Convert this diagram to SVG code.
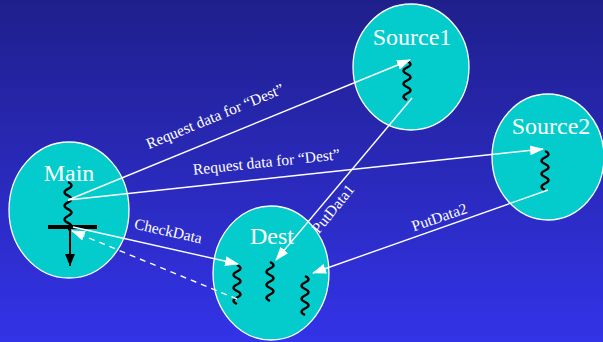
<svg xmlns="http://www.w3.org/2000/svg" xmlns:xlink="http://www.w3.org/1999/xlink" width="603" height="342" viewBox="0 0 603 342">
<defs>
<linearGradient id="bg" x1="0" y1="0" x2="0" y2="1">
<stop offset="0" stop-color="#1f1f8c"/>
<stop offset="1" stop-color="#3333e8"/>
</linearGradient>
<marker id="ah" markerUnits="userSpaceOnUse" markerWidth="14" markerHeight="12" refX="13" refY="5" orient="auto" viewBox="0 0 14 10">
<path d="M0,0 L14,5 L0,10 Z" fill="#ffffff"/>
</marker>
<marker id="ahb" markerUnits="userSpaceOnUse" markerWidth="12" markerHeight="12" refX="12" refY="5" orient="auto" viewBox="0 0 12 10">
<path d="M0,0 L12,5 L0,10 Z" fill="#000000"/>
</marker>
<path id="sq" d="M0,0 q 7,3.25 0,6.5 t 0,6.5 t 0,6.5 t 0,6.5 t 0,6.5 t 0,6.5"/>
<path id="sqm" d="M0,0 q 7,3.4 0,6.8 t 0,6.8 t 0,6.8 t 0,6.8 t 0,6.8 t 0,6.8 t 0,6.8"/>
</defs>
<style>
.node{fill:#04cccc;stroke:#ffffff;stroke-width:1.3}
.lbl{font-family:"Liberation Serif","DejaVu Serif","Times New Roman",serif;font-size:24px;fill:#ffffff;text-anchor:middle}
.elbl{font-family:"Liberation Serif","DejaVu Serif","Times New Roman",serif;font-size:15.5px;fill:#ffffff;text-anchor:middle}
.sq{fill:none;stroke:#000000;stroke-width:2.4}
.edge{stroke:#ffffff;stroke-width:1.4;fill:none;marker-end:url(#ah)}
</style>
<rect x="0" y="0" width="603" height="342" fill="url(#bg)"/>
<g id="node-main">
<ellipse class="node" cx="69" cy="210" rx="60" ry="68"/>
<text class="lbl" x="69" y="181">Main</text>
<use href="#sqm" class="sq" x="68" y="182"/>
<line x1="48" y1="227" x2="97" y2="227" stroke="#000" stroke-width="4"/>
<line x1="70" y1="228" x2="70" y2="266" stroke="#000" stroke-width="2" marker-end="url(#ahb)"/>
</g>
<g id="node-dest">
<ellipse class="node" cx="271" cy="273" rx="58" ry="67"/>
<text class="lbl" x="272" y="244">Dest</text>
<use href="#sq" class="sq" x="237" y="265"/>
<use href="#sq" class="sq" x="270" y="262"/>
<use href="#sq" class="sq" x="305" y="276"/>
</g>
<g id="node-source1">
<ellipse class="node" cx="411" cy="67" rx="58" ry="63"/>
<text class="lbl" x="412" y="45">Source1</text>
<use href="#sq" class="sq" x="407" y="61"/>
</g>
<g id="node-source2">
<ellipse class="node" cx="548" cy="157" rx="56" ry="63"/>
<text class="lbl" x="551" y="134">Source2</text>
<use href="#sq" class="sq" x="545" y="151"/>
</g>
<g id="connectors">
<line class="edge" x1="68" y1="200" x2="410" y2="60"/>
<line class="edge" x1="68" y1="200" x2="543" y2="149"/>
<line class="edge" x1="73" y1="227" x2="238" y2="264"/>
<line class="edge" x1="237" y1="299" x2="72" y2="231" stroke-dasharray="6,5"/>
<line class="edge" x1="412" y1="98" x2="276" y2="260"/>
<line class="edge" x1="548" y1="190" x2="313" y2="273"/>
<text class="elbl" transform="translate(217,121) rotate(-22.5)">Request data for “Dest”</text>
<text class="elbl" transform="translate(267,167) rotate(-6)">Request data for “Dest”</text>
<text class="elbl" transform="translate(167,236) rotate(12.5)">CheckData</text>
<text class="elbl" transform="translate(337,212) rotate(-51)">PutData1</text>
<text class="elbl" transform="translate(441,222) rotate(-19)">PutData2</text>
</g>
</svg>
